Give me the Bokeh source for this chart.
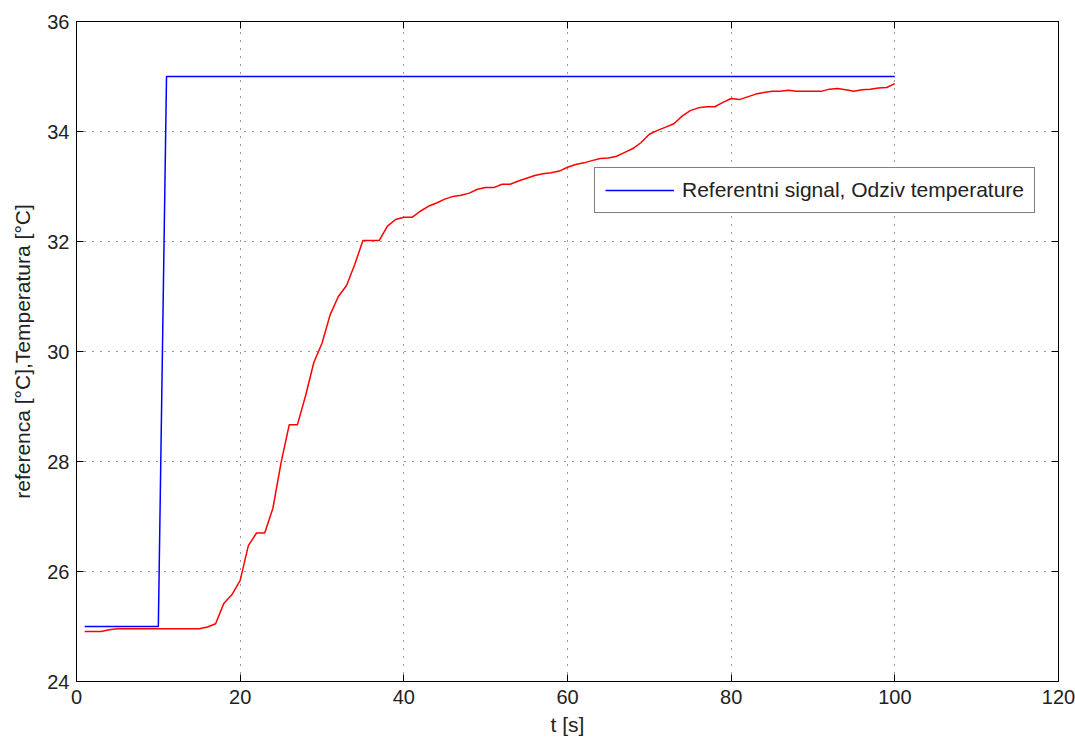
from bokeh.plotting import figure
from bokeh.models import Range1d, LinearAxis, FixedTicker, Legend, LegendItem
from bokeh.embed import file_html
from bokeh.resources import INLINE

# Reference signal (step)
ref_t = [1, 10, 11, 100]
ref_v = [25.0, 25.0, 35.0, 35.0]

# Measured temperature response, one sample per second
temp_t = list(range(1, 101))
temp_v = [
    24.91, 24.91, 24.91, 24.94, 24.96, 24.96, 24.96, 24.96, 24.96, 24.96,
    24.96, 24.96, 24.96, 24.96, 24.96, 24.99, 25.05, 25.42, 25.58, 25.84,
    26.47, 26.70, 26.70, 27.15, 27.98, 28.67, 28.67, 29.20, 29.80, 30.15,
    30.67, 31.00, 31.20, 31.58, 32.02, 32.02, 32.02, 32.28, 32.40, 32.44,
    32.44, 32.55, 32.64, 32.70, 32.77, 32.82, 32.84, 32.88, 32.95, 32.98,
    32.98, 33.04, 33.04, 33.10, 33.15, 33.20, 33.23, 33.25, 33.28, 33.35,
    33.40, 33.43, 33.47, 33.51, 33.52, 33.55, 33.62, 33.69, 33.80, 33.95,
    34.02, 34.08, 34.14, 34.28, 34.38, 34.43, 34.45, 34.45, 34.53, 34.60,
    34.58, 34.63, 34.68, 34.71, 34.73, 34.73, 34.75, 34.73, 34.73, 34.73,
    34.73, 34.77, 34.78, 34.76, 34.73, 34.76, 34.77, 34.79, 34.80, 34.87,
]

x_ticks = [0, 20, 40, 60, 80, 100, 120]
y_ticks = [24, 26, 28, 30, 32, 34, 36]

FONT = "Liberation Sans"

p = figure(width=1075, height=743, x_range=Range1d(0, 120), y_range=Range1d(24, 36),
           output_backend="svg", toolbar_location=None,
           min_border_left=76, min_border_right=17, min_border_top=21, min_border_bottom=62)
p.background_fill_color = "white"
p.border_fill_color = "white"
p.outline_line_color = "black"
p.outline_line_width = 1

blue = p.line(ref_t, ref_v, line_color="#0000FF", line_width=1.5)
red = p.line(temp_t, temp_v, line_color="#FF0000", line_width=1.5)

for ax, ticks in ((p.xaxis[0], x_ticks), (p.yaxis[0], y_ticks)):
    ax.ticker = FixedTicker(ticks=ticks)
    ax.major_tick_in = 7
    ax.major_tick_out = 0
    ax.minor_tick_line_color = None
    ax.axis_line_color = "black"
    ax.major_tick_line_color = "black"
    ax.major_label_text_font = FONT
    ax.major_label_text_font_size = "20px"
    ax.major_label_text_color = "#222222"
    ax.axis_label_text_font = FONT
    ax.axis_label_text_font_size = "21px"
    ax.axis_label_text_font_style = "normal"
    ax.axis_label_text_color = "#222222"

p.xaxis[0].axis_label = "t [s]"
p.xaxis[0].major_label_standoff = 8
p.xaxis[0].axis_label_standoff = 6
p.yaxis[0].axis_label = "referenca [°C],Temperatura [°C]"
p.yaxis[0].major_label_standoff = 7
p.yaxis[0].axis_label_standoff = 10

top = LinearAxis(ticker=FixedTicker(ticks=x_ticks), major_tick_in=7, major_tick_out=0,
                 minor_tick_line_color=None, major_label_text_font_size="0px",
                 major_label_text_color=None)
right = LinearAxis(ticker=FixedTicker(ticks=y_ticks), major_tick_in=7, major_tick_out=0,
                   minor_tick_line_color=None, major_label_text_font_size="0px",
                   major_label_text_color=None)
p.add_layout(top, "above")
p.add_layout(right, "right")

for g, ticks in ((p.xgrid[0], x_ticks), (p.ygrid[0], y_ticks)):
    g.ticker = FixedTicker(ticks=ticks)
    g.grid_line_color = "black"
    g.grid_line_dash = "1 7"
    g.grid_line_width = 1
    g.grid_line_alpha = 0.8

legend = Legend(items=[LegendItem(label="Referentni signal, Odziv temperature", renderers=[blue])],
                location=(518, 468), orientation="vertical")
legend.border_line_color = "black"
legend.border_line_width = 1.5
legend.background_fill_color = "white"
legend.background_fill_alpha = 1
legend.label_text_font = FONT
legend.label_text_font_size = "21px"
legend.label_text_color = "#222222"
legend.glyph_width = 69
legend.glyph_height = 18
legend.label_height = 18
legend.label_standoff = 8
legend.padding = 10
legend.margin = 0
legend.spacing = 0
p.add_layout(legend, "center")

open("out.html", "w").write(file_html(p, INLINE))
